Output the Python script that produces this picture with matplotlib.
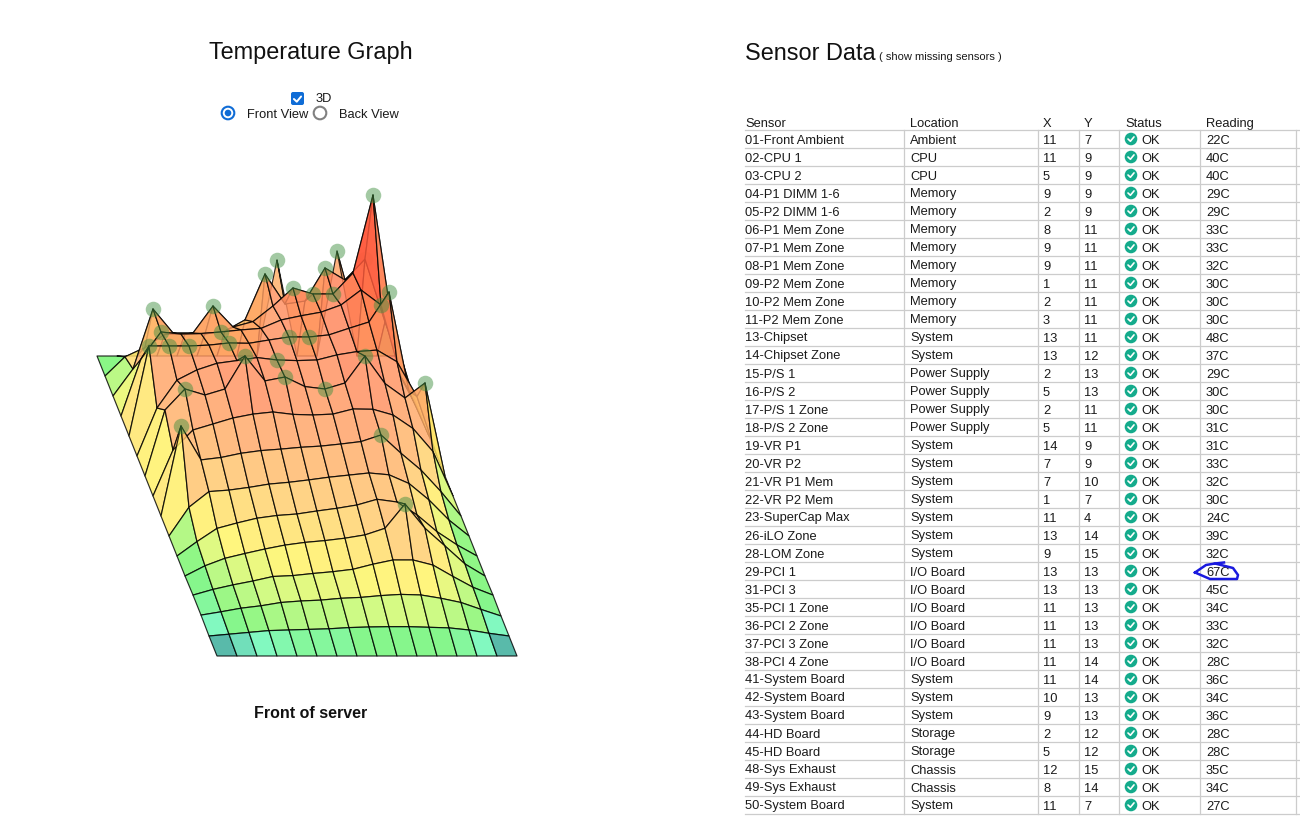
import numpy as np
import matplotlib
matplotlib.use("Agg")
import matplotlib.pyplot as plt
from matplotlib.collections import PolyCollection
from matplotlib.colors import LinearSegmentedColormap
from matplotlib.patches import Circle, FancyBboxPatch

plt.rcParams['font.family'] = ['Liberation Sans', 'DejaVu Sans']

# temperature surface, one row per Y (front to back), one value per X
grid_temps = [
    [0, 0, 0, 0, 0, 0, 0, 0, 0, 0, 0, 0, 0, 0, 0, 0],
    [0, 0.6, 1.2, 1.8, 2, 2.2, 2.4, 2.8, 3, 3.1, 3.1, 2.9, 2.7, 2, 0.9, 0],
    [0.3, 1.4, 2.6, 3.4, 4.5, 5, 5.3, 5.9, 6.2, 6.8, 7.2, 7, 5.9, 4.5, 2.2, 0],
    [0.3, 2.2, 3.7, 5, 6.5, 6.8, 7.5, 8.1, 8.9, 10.6, 12, 12, 10.3, 6.5, 2.9, 0.3],
    [0, 3.4, 5.9, 7.5, 9, 10.3, 11.2, 11.8, 12.6, 13.7, 15.9, 24, 15.9, 10, 4, 0],
    [0, 4.8, 9.2, 11, 12.6, 13.5, 14, 15, 15.9, 17, 18.9, 18, 13.7, 8.1, 3.7, 0],
    [0, 9.6, 14.8, 15.3, 16.2, 17.3, 17.9, 18.7, 19.6, 20.3, 21, 20.4, 17.5, 12, 5.3, 0],
    [0, 30, 18.7, 19.5, 20.9, 21.8, 22.3, 22.9, 23.3, 24, 24.8, 27, 20.9, 15.3, 8.1, 0],
    [0, 15.3, 22, 24, 26, 27.3, 28, 27.2, 27, 27.3, 29, 28.9, 27, 22.5, 14.8, 0],
    [0, 22, 29, 27, 29, 40, 31.7, 33, 29.8, 29, 31, 40, 30.8, 26, 31, 0],
    [0, 16, 25.3, 28.7, 30.9, 31.8, 32.8, 32, 31.8, 32, 33.7, 34.8, 35.3, 31.4, 19.8, 0],
    [0, 30, 30, 30, 30.3, 31, 30.9, 32, 33, 33, 33.7, 35.9, 38, 48, 15, 0],
    [0, 19, 28, 27.3, 27.5, 28, 28.7, 29.2, 32, 33.4, 34.6, 37, 42, 37, 13, 0],
    [0, 9, 29, 21, 21, 30, 23, 24.8, 30, 36, 34, 34, 41, 67, 22, 0],
    [0, 6.4, 9.5, 14, 14, 14, 15, 18.7, 34, 24, 25, 36, 32, 39, 18, 0],
    [0, 0, 0, 0, 0, 0, 0, 0, 0, 32, 0, 0, 35, 0, 0, 0],
]

sensors = ["01-Front Ambient", "02-CPU 1", "03-CPU 2", "04-P1 DIMM 1-6", "05-P2 DIMM 1-6",
           "06-P1 Mem Zone", "07-P1 Mem Zone", "08-P1 Mem Zone", "09-P2 Mem Zone",
           "10-P2 Mem Zone", "11-P2 Mem Zone", "13-Chipset", "14-Chipset Zone", "15-P/S 1",
           "16-P/S 2", "17-P/S 1 Zone", "18-P/S 2 Zone", "19-VR P1", "20-VR P2", "21-VR P1 Mem",
           "22-VR P2 Mem", "23-SuperCap Max", "26-iLO Zone", "28-LOM Zone", "29-PCI 1", "31-PCI 3",
           "35-PCI 1 Zone", "36-PCI 2 Zone", "37-PCI 3 Zone", "38-PCI 4 Zone", "41-System Board",
           "42-System Board", "43-System Board", "44-HD Board", "45-HD Board", "48-Sys Exhaust",
           "49-Sys Exhaust", "50-System Board"]
locations = ["Ambient", "CPU", "CPU", "Memory", "Memory", "Memory", "Memory", "Memory", "Memory",
             "Memory", "Memory", "System", "System", "Power Supply", "Power Supply", "Power Supply",
             "Power Supply", "System", "System", "System", "System", "System", "System", "System",
             "I/O Board", "I/O Board", "I/O Board", "I/O Board", "I/O Board", "I/O Board", "System",
             "System", "System", "Storage", "Storage", "Chassis", "Chassis", "System"]
sensor_x = [11, 11, 5, 9, 2, 8, 9, 9, 1, 2, 3, 13, 13, 2, 5, 2, 5, 14, 7, 7, 1, 11, 13, 9, 13, 13,
            11, 11, 11, 11, 11, 10, 9, 2, 5, 12, 8, 11]
sensor_y = [7, 9, 9, 9, 9, 11, 11, 11, 11, 11, 11, 11, 12, 13, 13, 11, 11, 9, 9, 10, 7, 4, 14, 15,
            13, 13, 13, 13, 13, 14, 14, 13, 13, 12, 12, 15, 14, 7]
readings = [22, 40, 40, 29, 29, 33, 33, 32, 30, 30, 30, 48, 37, 29, 30, 30, 31, 31, 33, 32, 30, 24,
            39, 32, 67, 45, 34, 33, 32, 28, 36, 34, 36, 28, 28, 35, 34, 27]

columns = ["Sensor", "Location", "X", "Y", "Status", "Reading"]
column_left = [745, 910, 1043, 1084, 1125, 1206]
column_rules = [904, 1038, 1079, 1119, 1200, 1296]

# surface projection, in image pixels
ORIGIN_X, ORIGIN_Y = 217, 656
STEP_X, SHEAR_X, STEP_Y, PX_PER_DEG = 20, 8, 20, 3

temp_cmap = LinearSegmentedColormap.from_list("temps", [
    (0.0, "#35ab98"), (0.0067, "#66f8b8"), (0.021, "#6cf56c"), (0.07, "#c8f96a"),
    (0.125, "#fff562"), (0.24, "#ffcb6c"), (0.36, "#ffa766"), (0.5, "#ff8a5c"),
    (0.72, "#ff5438"), (1.0, "#ff3020")])


def project(x, y, temp):
    return ORIGIN_X + STEP_X * x - SHEAR_X * y, ORIGIN_Y - STEP_Y * y - PX_PER_DEG * temp


def check_mark(ax, cx, cy, size, lw, zorder=60):
    ax.plot([cx - size, cx - size * 0.2, cx + size], [cy, cy + size * 0.75, cy - size * 0.7],
            color="white", lw=lw, solid_capstyle="round", zorder=zorder)


fig = plt.figure(figsize=(13, 8.18), dpi=100)
ax = fig.add_axes([0, 0, 1, 1])
ax.set_xlim(0, 1300)
ax.set_ylim(818, 0)
ax.axis("off")

# surface, painted back to front
temps = np.array(grid_temps)
n_rows, n_cols = temps.shape
for j in range(n_rows - 2, -1, -1):
    polys, vals = [], []
    for i in range(n_cols - 1):
        corners = [(i, j), (i + 1, j), (i + 1, j + 1), (i, j + 1)]
        polys.append([project(c, r, temps[r, c]) for c, r in corners])
        vals.append(np.mean([temps[r, c] for c, r in corners]))
    pc = PolyCollection(polys, array=np.array(vals), cmap=temp_cmap, clim=(0, 67),
                        linewidths=0.85, zorder=2 * (n_rows - j) + 1)
    pc.set_alpha(0.82)
    pc.set_edgecolor((0, 0, 0, 0.9))
    ax.add_collection(pc)

# one marker per grid position, the hottest sensor there; the iLO one sits behind the peak
hottest = {}
for sx, sy, t in zip(sensor_x, sensor_y, readings):
    hottest[(sx, sy)] = max(t, hottest.get((sx, sy), 0))
for (sx, sy), t in hottest.items():
    px, py = project(sx, sy, t)
    if (sx, sy) == (13, 14):
        z = 2 * (n_rows - 14)
    else:
        z = 39
    ax.scatter([px], [py], s=125, color="#3f8f3f", alpha=0.48, linewidths=0, zorder=z)

# left panel text
ax.text(311, 53, "Temperature Graph", fontsize=16.9, ha="center", va="center", color="#111111")
ax.text(311, 713.5, "Front of server", fontsize=11.5, fontweight="bold", ha="center", va="center", color="#111111")
ax.text(316, 102, "3D", fontsize=9.3, va="baseline", color="#1a1a1a")
ax.text(247, 118, "Front View", fontsize=9.3, va="baseline", color="#1a1a1a")
ax.text(339, 118, "Back View", fontsize=9.3, va="baseline", color="#1a1a1a")

ax.add_patch(FancyBboxPatch((292, 93), 11, 11, boxstyle="round,pad=1,rounding_size=2", fc="#0f6cd6", ec="none", zorder=50))
check_mark(ax, 297.5, 99, 3.6, 1.4)
ax.add_patch(Circle((228, 113), 6.3, fc="white", ec="#0f6cd6", lw=1.5, zorder=50))
ax.add_patch(Circle((228, 113), 3.3, fc="#0f6cd6", ec="none", zorder=51))
ax.add_patch(Circle((320, 113), 6.3, fc="white", ec="#808080", lw=1.5, zorder=50))

# right panel
ax.text(745, 53, "Sensor Data", fontsize=16.9, va="center", color="#111111")
ax.text(879, 57, "( show missing sensors )", fontsize=8, va="center", color="#1a1a1a")

row_h = 18
top = 130
n = len(sensors)
for label, x0 in zip(columns, column_left):
    ax.text(x0, 127, label, fontsize=9.3, va="baseline", color="#1a1a1a")
for r in range(n + 1):
    ax.plot([745, 1300], [top + r * row_h] * 2, color="#cccccc", lw=0.9, zorder=40)
for x0 in column_rules:
    ax.plot([x0, x0], [top, top + n * row_h], color="#cccccc", lw=0.9, zorder=40)
for r in range(n):
    yc = top + r * row_h + 9
    yt = yc + 4.5
    ax.text(column_left[0], yt, sensors[r], fontsize=9.3, va="baseline", color="#1a1a1a")
    ax.text(column_left[1], yt, locations[r], fontsize=9.3, va="baseline", color="#1a1a1a")
    ax.text(column_left[2], yt, str(sensor_x[r]), fontsize=9.3, va="baseline", color="#1a1a1a")
    ax.text(column_left[3], yt, str(sensor_y[r]), fontsize=9.3, va="baseline", color="#1a1a1a")
    ax.add_patch(Circle((1131, yc), 6.3, fc="#14ab8c", ec="none", zorder=50))
    check_mark(ax, 1131, yc, 3, 1.2)
    ax.text(1141, yt, "OK", fontsize=9.3, va="baseline", color="#1a1a1a")
    ax.text(column_left[5], yt, f"{readings[r]}C", fontsize=9.3, va="baseline", color="#1a1a1a")

# hand-drawn pen mark around the 67C reading
pen_x = [1195, 1206, 1215, 1233, 1238, 1237, 1210, 1195]
pen_y = [572.5, 565, 563.5, 568, 575, 579, 579, 572.5]
ax.plot(pen_x, pen_y, color="#1a1adf", lw=1.8, zorder=70)
ax.plot([1215, 1224], [563.5, 562.5], color="#1a1adf", lw=1.8, zorder=70)

fig.savefig("out.png", dpi=100)
